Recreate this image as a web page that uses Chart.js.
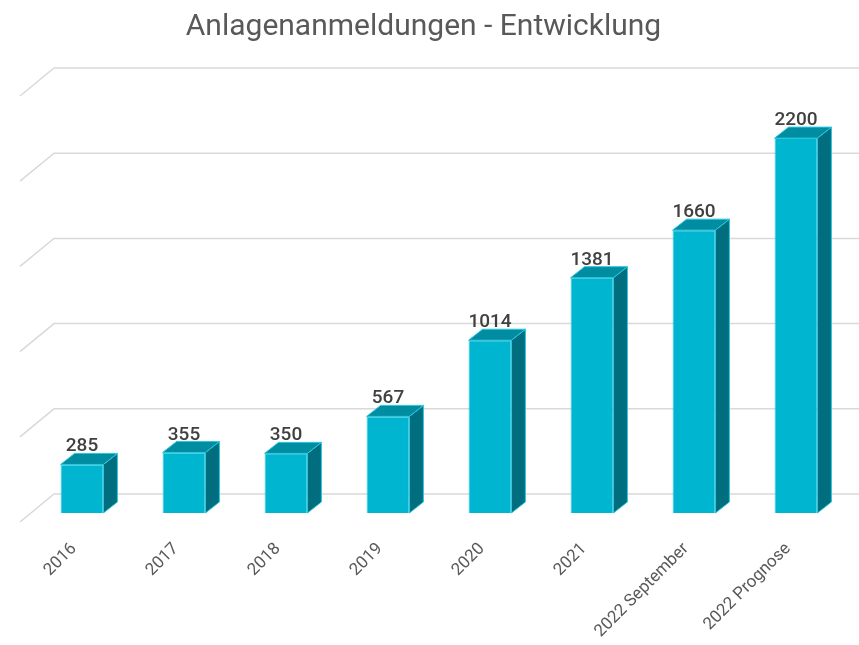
<!DOCTYPE html>
<html><head><meta charset="utf-8">
<script src="https://cdn.jsdelivr.net/npm/chart.js@4"></script>
<style>html,body{margin:0;padding:0;background:#fff}#wrap{width:859px;height:645px}</style>
</head><body><div id="wrap"><canvas id="c" width="859" height="645"></canvas></div>
<script>
const categories = ["2016","2017","2018","2019","2020","2021","2022 September","2022 Prognose"];
const values = [285,355,350,567,1014,1381,1660,2200];
const yTicks = [0,500,1000,1500,2000,2500];
const titleText = "Anlagenanmeldungen - Entwicklung";

const DX = 14, DY = 11;      // bar depth
const WX = 34, WF = 9, WB = 19; // wall depth

const wallPlugin = {
  id: 'wall',
  beforeDatasetsDraw(chart){
    const ctx = chart.ctx, y = chart.scales.y;
    ctx.save();
    ctx.strokeStyle = '#D9D9D9'; ctx.lineWidth = 1.5;
    y.ticks.forEach(t => {
      const py = y.getPixelForValue(t.value);
      ctx.beginPath();
      ctx.moveTo(20, py + WF);
      ctx.lineTo(20 + WX, py - WB);
      ctx.lineTo(chart.width, py - WB);
      ctx.stroke();
    });
    ctx.restore();
  },
  afterDatasetsDraw(chart){
    const ctx = chart.ctx;
    const meta = chart.getDatasetMeta(0);
    ctx.save();
    meta.data.forEach((bar, i) => {
      const p = bar.getProps(['x','y','base','width'], true);
      const l = p.x - p.width/2, r = p.x + p.width/2, t = p.y, b = p.base;
      ctx.fillStyle = '#006E7E';
      ctx.beginPath();
      ctx.moveTo(r, t); ctx.lineTo(r+DX, t-DY); ctx.lineTo(r+DX, b-DY); ctx.lineTo(r, b); ctx.closePath();
      ctx.fill();
      ctx.strokeStyle = '#2CC6DE'; ctx.lineWidth = 1; ctx.stroke();
      ctx.fillStyle = '#008CA1';
      ctx.beginPath();
      ctx.moveTo(l, t); ctx.lineTo(l+DX, t-DY); ctx.lineTo(r+DX, t-DY); ctx.lineTo(r, t); ctx.closePath();
      ctx.fill(); ctx.stroke();
      ctx.fillStyle = '#404040';
      ctx.font = '500 19px Roboto';
      ctx.textAlign = 'center'; ctx.textBaseline = 'alphabetic';
      ctx.fillText(String(values[i]), p.x, t - 13);
    });
    ctx.restore();
  }
};

new Chart(document.getElementById('c'), {
  type: 'bar',
  data: {
    labels: categories,
    datasets: [{
      data: values,
      backgroundColor: '#00B5CF',
      borderColor: '#2CC6DE',
      borderWidth: 1,
      barPercentage: 0.84,
      categoryPercentage: 0.5
    }]
  },
  options: {
    responsive: false,
    animation: false,
    layout: { padding: { left: 0, right: 12, top: 0, bottom: 0 } },
    plugins: {
      legend: { display: false },
      tooltip: { enabled: false },
      title: {
        display: true, text: titleText, color: '#595959',
        font: { family: 'Roboto', size: 30, weight: 'normal', lineHeight: 1.2 },
        padding: { top: 9, bottom: 42 }
      }
    },
    scales: {
      x: {
        grid: { display: false }, border: { display: false },
        ticks: { color: '#595959', font: { family: 'Roboto', size: 17 }, minRotation: 45, maxRotation: 45, padding: 18, labelOffset: -8 },
        afterFit(s){ s.height = 132; }
      },
      y: {
        min: 0, max: 2500,
        ticks: { display: false, stepSize: 500 },
        grid: { display: false }, border: { display: false },
        afterFit(s){ s.width = 31; }
      }
    }
  },
  plugins: [wallPlugin]
});
</script></body></html>
